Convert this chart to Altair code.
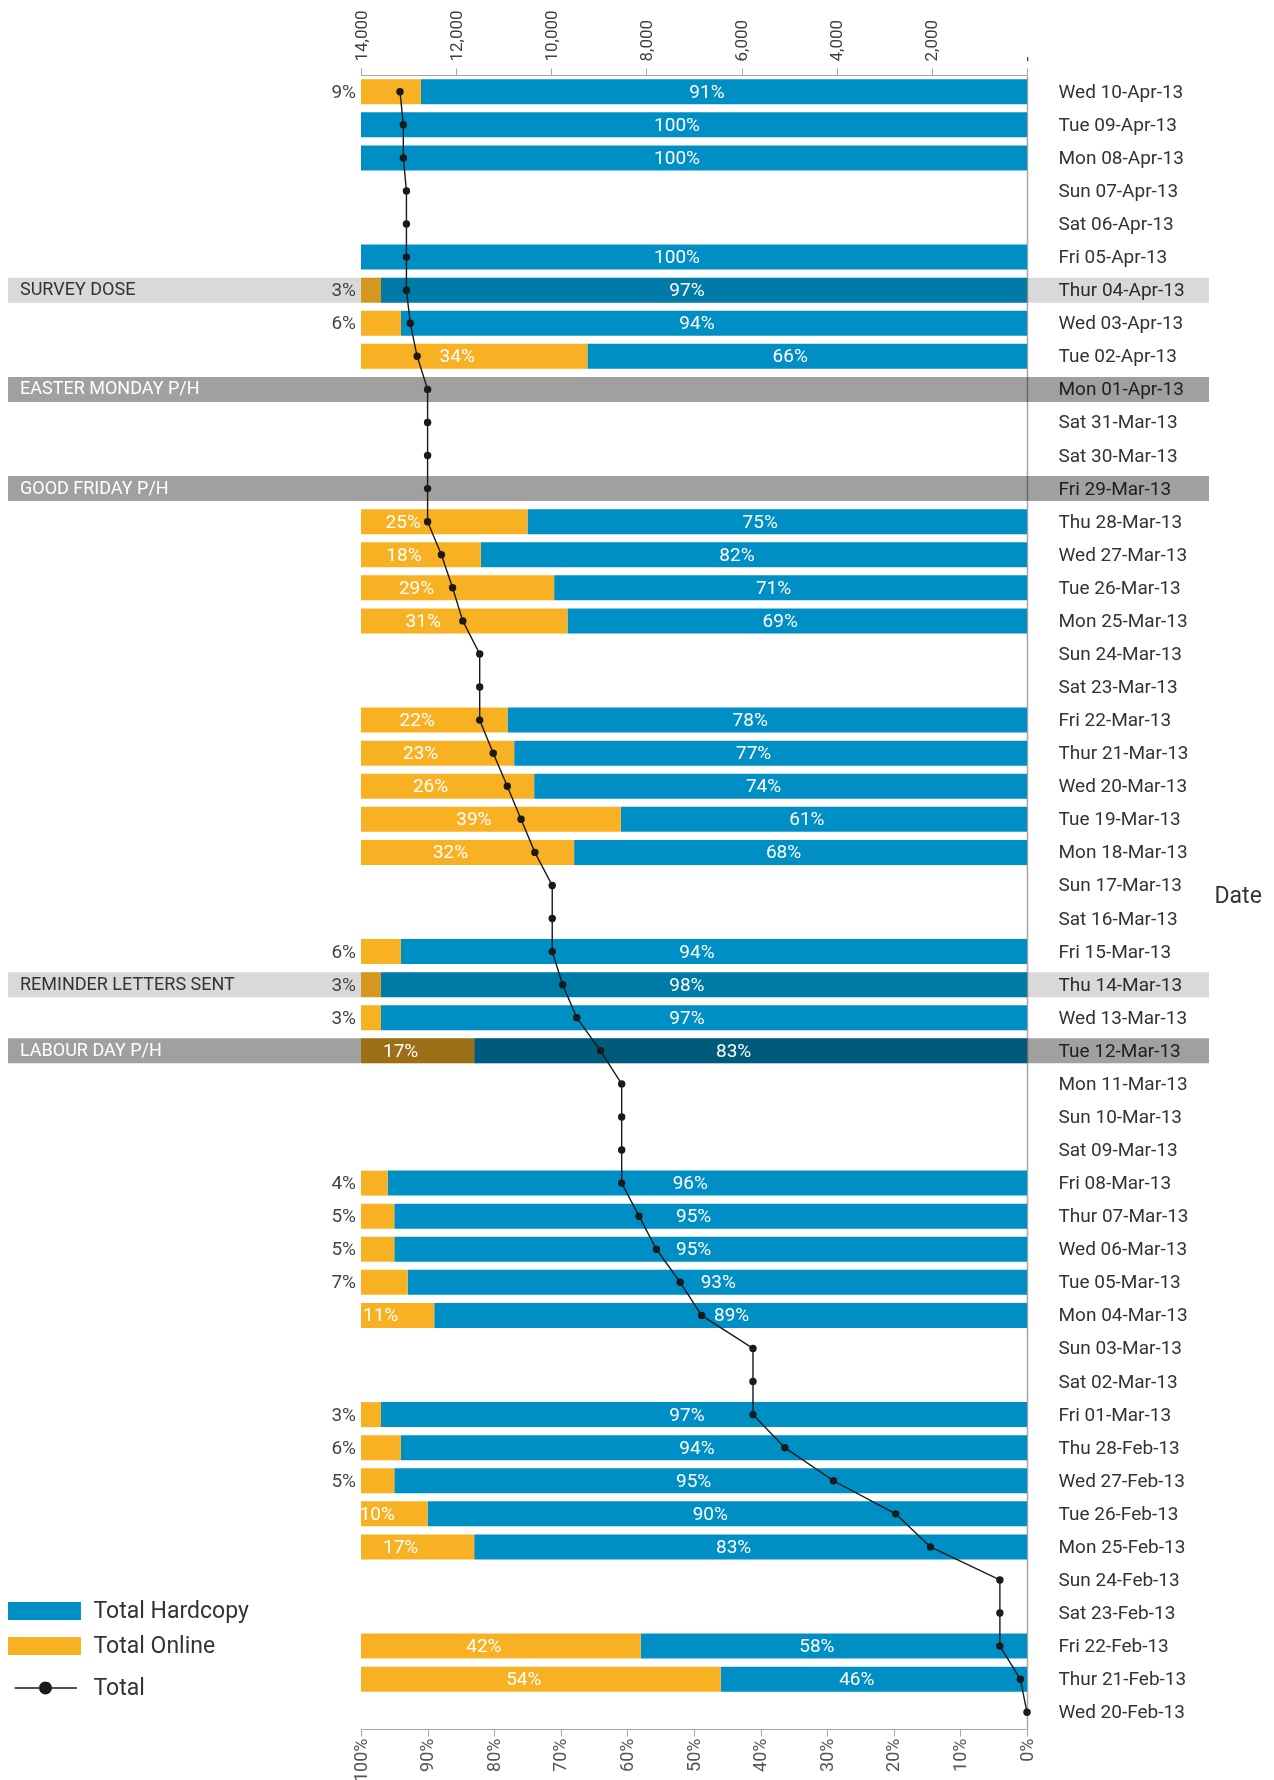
import altair as alt
import pandas as pd

# ---------------- data ----------------
dates = ["Wed 10-Apr-13", "Tue 09-Apr-13", "Mon 08-Apr-13", "Sun 07-Apr-13", "Sat 06-Apr-13",
         "Fri 05-Apr-13", "Thur 04-Apr-13", "Wed 03-Apr-13", "Tue 02-Apr-13", "Mon 01-Apr-13",
         "Sat 31-Mar-13", "Sat 30-Mar-13", "Fri 29-Mar-13", "Thu 28-Mar-13", "Wed 27-Mar-13",
         "Tue 26-Mar-13", "Mon 25-Mar-13", "Sun 24-Mar-13", "Sat 23-Mar-13", "Fri 22-Mar-13",
         "Thur 21-Mar-13", "Wed 20-Mar-13", "Tue 19-Mar-13", "Mon 18-Mar-13", "Sun 17-Mar-13",
         "Sat 16-Mar-13", "Fri 15-Mar-13", "Thu 14-Mar-13", "Wed 13-Mar-13", "Tue 12-Mar-13",
         "Mon 11-Mar-13", "Sun 10-Mar-13", "Sat 09-Mar-13", "Fri 08-Mar-13", "Thur 07-Mar-13",
         "Wed 06-Mar-13", "Tue 05-Mar-13", "Mon 04-Mar-13", "Sun 03-Mar-13", "Sat 02-Mar-13",
         "Fri 01-Mar-13", "Thu 28-Feb-13", "Wed 27-Feb-13", "Tue 26-Feb-13", "Mon 25-Feb-13",
         "Sun 24-Feb-13", "Sat 23-Feb-13", "Fri 22-Feb-13", "Thur 21-Feb-13", "Wed 20-Feb-13"]

online = [9, 0, 0, None, None, 0, 3, 6, 34, None,
          None, None, None, 25, 18, 29, 31, None, None, 22,
          23, 26, 39, 32, None, None, 6, 3, 3, 17,
          None, None, None, 4, 5, 5, 7, 11, None, None,
          3, 6, 5, 10, 17, None, None, 42, 54, None]

hardcopy = [91, 100, 100, None, None, 100, 97, 94, 66, None,
            None, None, None, 75, 82, 71, 69, None, None, 78,
            77, 74, 61, 68, None, None, 94, 98, 97, 83,
            None, None, None, 96, 95, 95, 93, 89, None, None,
            97, 94, 95, 90, 83, None, None, 58, 46, None]

totals = [13180, 13110, 13110, 13045, 13045, 13045, 13045, 12965, 12820, 12600,
          12600, 12600, 12600, 12600, 12310, 12075, 11860, 11505, 11505, 11505,
          11220, 10925, 10635, 10345, 9980, 9980, 9980, 9760, 9465, 8965,
          8520, 8520, 8520, 8520, 8155, 7790, 7290, 6840, 5760, 5760,
          5760, 5090, 4070, 2760, 2030, 570, 570, 570, 140, 0]

event_dates = ["Thur 04-Apr-13", "Mon 01-Apr-13", "Fri 29-Mar-13", "Thu 14-Mar-13", "Tue 12-Mar-13"]
event_names = ["SURVEY DOSE", "EASTER MONDAY P/H", "GOOD FRIDAY P/H", "REMINDER LETTERS SENT", "LABOUR DAY P/H"]
event_kinds = ["light", "dark", "dark", "light", "dark"]

series_names = ["Total Hardcopy", "Total Online"]
line_name = ["Total"]
pct_ticks = [i / 10 for i in range(11)]
total_ticks = [0, 2000, 4000, 6000, 8000, 10000, 12000, 14000]

# labels shifted so that they clear the line (styling only)
nudged_online = ["Thu 28-Mar-13", "Tue 26-Mar-13", "Mon 25-Mar-13"]
nudged_hardcopy = ["Tue 05-Mar-13", "Mon 04-Mar-13"]

# ---------------- style ----------------
BLUE = "#008FC5"
ORANGE = "#F9B124"
LIGHT = "#D9D9D9"
DARK = "#A0A0A0"
INK = "#1a1a1a"
GRID = "#a6a6a6"
W, H = 666, 1654
FONT = "Roboto"

# ---------------- tables ----------------
rows = pd.DataFrame({"date": dates, "total": totals, "idx": list(range(len(dates)))})

bar_recs, lab_recs = [], []
for d, on, hc in zip(dates, online, hardcopy):
    if on is None:
        continue
    f = hc / (on + hc)
    bar_recs.append(dict(date=d, series="Total Hardcopy", x0=0.0, x1=f))
    if on > 0:
        bar_recs.append(dict(date=d, series="Total Online", x0=f, x1=1.0))
    lab_recs.append(dict(date=d, hc_mid=f / 2, hc_lab=f"{hc}%", on_mid=(f + 1) / 2,
                         on_lab=f"{on}%", on=on, edge=1.0,
                         on_nudge=d in nudged_online, hc_nudge=d in nudged_hardcopy))
bars_df = pd.DataFrame(bar_recs)
labs_df = pd.DataFrame(lab_recs)
events_df = pd.DataFrame({"date": event_dates, "name": event_names, "kind": event_kinds})
legend_df = pd.DataFrame({"date": [dates[-1]], "total": [-5000], "lbl": line_name})

# ---------------- scales / axes ----------------
pct_scale = alt.Scale(domain=[0, 1], reverse=True, nice=False)
tot_scale = alt.Scale(domain=[0, 14000], reverse=True, nice=False)

yaxis = alt.Axis(orient="right", title="Date", titleAngle=0, titleAlign="left",
                 titleBaseline="middle", titleX=187, titleY=820, titleFont=FONT,
                 titleFontSize=23, titleFontWeight="normal", titleColor="#333333",
                 labelFont=FONT, labelFontSize=19, labelColor="#333333", labelPadding=31,
                 labelAlign="left", labelBaseline="middle", ticks=False, tickSize=0,
                 domainColor=GRID, domainWidth=1.5, grid=False)
yenc = alt.Y("date:N", sort=dates,
             scale=alt.Scale(paddingInner=0.244, paddingOuter=0.128), axis=yaxis)

pct_axis = alt.Axis(orient="bottom", values=pct_ticks, format=".0%", labelAngle=270,
                    labelAlign="right", labelBaseline="middle", labelFont=FONT,
                    labelFontSize=18, labelColor="#555555", labelPadding=2, tickSize=7,
                    tickColor=GRID, domainColor=GRID, grid=False, title=None,
                    labelFlush=False, labelOverlap=False)
tot_axis = alt.Axis(orient="top", values=total_ticks,
                    labelExpr="datum.value == 0 ? '-' : format(datum.value, ',')",
                    labelAngle=270, labelAlign="left", labelBaseline="middle",
                    labelFont=FONT, labelFontSize=17, labelColor="#404040", labelPadding=7,
                    tickSize=7, tickColor=GRID, domainColor=GRID, grid=False, title=None,
                    labelFlush=False, labelOverlap=False)

RECT_PATH = "M-1,-0.75H5.08V0.75H-1Z"
TOTAL_PATH = ("M-0.45,-0.065H1.6V0.065H-0.45Z "
              "M2.66,-0.065H4.75V0.065H2.66Z "
              "M1.585,0A0.54,0.54 0 1,0 2.665,0A0.54,0.54 0 1,0 1.585,0Z")

fill_legend = alt.Legend(orient="none", legendX=-353, legendY=1524, title=None,
                         symbolType=RECT_PATH, symbolSize=576, symbolStrokeWidth=0,
                         labelFont=FONT, labelFontSize=23, labelColor="#333333",
                         labelOffset=61.5, labelLimit=400, rowPadding=11, padding=0,
                         direction="vertical")
line_legend = alt.Legend(orient="none", legendX=-353, legendY=1601, title=None,
                         symbolSize=576, symbolStrokeWidth=0, symbolFillColor=INK,
                         labelFont=FONT, labelFontSize=23, labelColor="#333333",
                         labelOffset=61.5, labelLimit=400, padding=0)

# ---------------- layers ----------------
bars = alt.Chart(bars_df).mark_bar().encode(
    x=alt.X("x0:Q", scale=pct_scale, axis=pct_axis),
    x2="x1:Q",
    y=yenc,
    fill=alt.Fill("series:N", scale=alt.Scale(domain=series_names, range=[BLUE, ORANGE]),
                  legend=fill_legend),
)

bands = alt.Chart(events_df).mark_rect(blend="multiply").encode(
    x=alt.value(-353),
    x2=alt.value(W + 182),
    y=yenc,
    fill=alt.condition(alt.datum.kind == "dark", alt.value(DARK), alt.value(LIGHT)),
)

event_text = alt.Chart(events_df).mark_text(
    align="left", baseline="middle", font=FONT, fontSize=18
).encode(
    x=alt.value(-341),
    y=yenc,
    text="name:N",
    color=alt.condition(alt.datum.kind == "dark", alt.value("#ffffff"), alt.value("#333333")),
)

txt = dict(baseline="middle", font=FONT, fontSize=19)

hc_text = alt.Chart(labs_df).transform_filter("!datum.hc_nudge").mark_text(
    align="center", dx=-17, color="#ffffff", **txt).encode(
    x=alt.X("hc_mid:Q", scale=pct_scale, axis=None), y=yenc, text="hc_lab:N")

hc_text_nudged = alt.Chart(labs_df).transform_filter("datum.hc_nudge").mark_text(
    align="center", dx=1, color="#ffffff", **txt).encode(
    x=alt.X("hc_mid:Q", scale=pct_scale, axis=None), y=yenc, text="hc_lab:N")

on_in = alt.Chart(labs_df).transform_filter(
    "datum.on >= 10 && !datum.on_nudge"
).mark_text(align="center", dx=-17, color="#ffffff", **txt).encode(
    x=alt.X("on_mid:Q", scale=pct_scale, axis=None), y=yenc, text="on_lab:N")

on_in_nudged = alt.Chart(labs_df).transform_filter(
    "datum.on >= 10 && datum.on_nudge"
).mark_text(align="center", dx=-41, color="#ffffff", **txt).encode(
    x=alt.X("on_mid:Q", scale=pct_scale, axis=None), y=yenc, text="on_lab:N")

on_out = alt.Chart(labs_df).transform_filter(
    "datum.on > 0 && datum.on < 10"
).mark_text(align="right", dx=-5, color="#444444", **txt).encode(
    x=alt.X("edge:Q", scale=pct_scale, axis=None), y=yenc, text="on_lab:N")

line = alt.Chart(rows).mark_line(color=INK, strokeWidth=1.4).encode(
    x=alt.X("total:Q", scale=tot_scale, axis=tot_axis),
    y=yenc,
    order="idx:Q",
)

pts = alt.Chart(rows).mark_point(filled=True, size=55, color=INK, opacity=1).encode(
    x=alt.X("total:Q", scale=tot_scale, axis=None),
    y=yenc,
)

leg_pt = alt.Chart(legend_df).mark_point(filled=True, clip=True, size=576, color=INK,
                                         opacity=1).encode(
    x=alt.X("total:Q", scale=tot_scale, axis=None),
    y=yenc,
    shape=alt.Shape("lbl:N", scale=alt.Scale(domain=line_name, range=[TOTAL_PATH]),
                    legend=line_legend),
)

chart = alt.layer(
    bars, bands, event_text, hc_text, hc_text_nudged, on_in, on_in_nudged, on_out,
    line, pts, leg_pt
).resolve_scale(
    x="independent"
).properties(
    width=W, height=H,
    padding={"left": 0, "top": 1, "right": 4, "bottom": 0},
    background="#ffffff",
).configure_view(strokeWidth=0)

chart.save("out.html", embed_options={"renderer": "svg", "actions": False})
